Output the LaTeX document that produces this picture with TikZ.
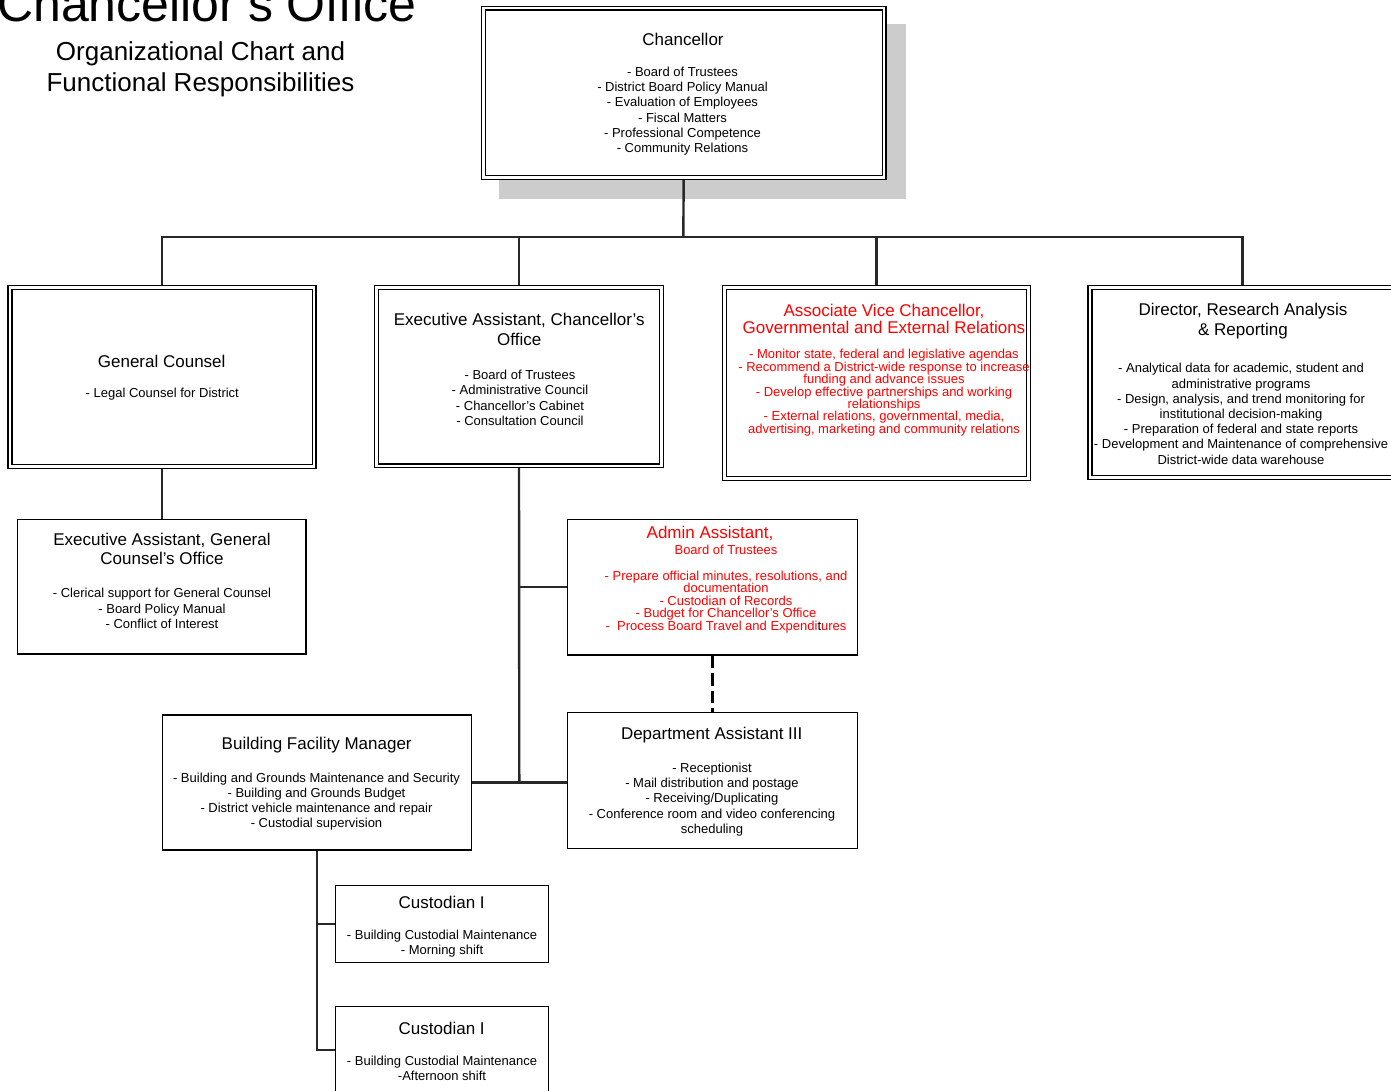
\documentclass[tikz,border=0pt]{standalone}
\usepackage{fontspec}
\setmainfont{Liberation Sans}
\usetikzlibrary{backgrounds}
\definecolor{shadowgray}{RGB}{204,204,204}
\definecolor{linegray}{RGB}{40,40,40}
\tikzset{
  dbox/.style={draw=black, line width=1.4pt, double=white, double distance=2.4pt, fill=white, inner sep=0, rectangle},
  sbox/.style={draw=black, line width=1.5pt, fill=white, inner sep=0, rectangle},
  ttl/.style={font=\fontsize{17}{20.6}\selectfont, align=center, inner sep=0, anchor=north},
  itm/.style={font=\fontsize{13}{15.3}\selectfont, align=center, inner sep=0, anchor=north},
  conn/.style={draw=linegray, line width=2.4pt},
  dashconn/.style={draw=black, line width=2.5pt, dash pattern=on 12.5pt off 5pt},
}
\begin{document}
\begin{tikzpicture}[x=1pt,y=-1pt]
\useasboundingbox (0,0) rectangle (1391,1091);

% headings
\node[font=\fontsize{50}{60}\selectfont, anchor=base east, inner sep=0] (bigtitle) at (417,21.7) {Chancellor’s Office};
\node[font=\fontsize{26}{30.7}\selectfont, align=center, anchor=north, inner sep=0] (subtitle) at (200.5,41.4) {Organizational Chart and\\Functional Responsibilities};

% boxes
\node[dbox, minimum width=400.8, minimum height=169.1] (ch) at (683.7,92.85) {};
\node[dbox, minimum width=304.2, minimum height=178.8] (gc) at (162,377) {};
\node[dbox, minimum width=284.8, minimum height=178.1] (ea) at (519,376.65) {};
\node[dbox, minimum width=304.1, minimum height=190.8] (avc) at (876.35,383) {};
\node[dbox, minimum width=305.5, minimum height=189.8] (dir) at (1242.65,382.5) {};
\node[sbox, minimum width=288.7, minimum height=134.7] (eagc) at (161.65,586.65) {};
\node[sbox, minimum width=290, minimum height=135.7] (adm) at (712.3,587.15) {};
\node[sbox, minimum width=290, minimum height=136] (dept) at (712.3,780.3) {};
\node[sbox, minimum width=309.4, minimum height=135] (bfm) at (317,782.5) {};
\node[sbox, minimum width=212.6, minimum height=77] (cA) at (442,924.2) {};
\node[sbox, minimum width=212.6, minimum height=86.6] (cB) at (442,1050) {};

% texts
\node[ttl] (chT) at (683,32.6) {Chancellor};
\node[itm] (chI) at (682.5,66.7) {- Board of Trustees\\- District Board Policy Manual\\- Evaluation of Employees\\- Fiscal Matters\\- Professional Competence\\- Community Relations};

\node[ttl] (gcT) at (161.7,355) {General Counsel};
\node[itm] (gcI) at (162.3,388.3) {- Legal Counsel for District};

\node[ttl] (eaT) at (519.2,312.7) {Executive Assistant, Chancellor’s\\Office};
\node[itm] (eaI) at (520,370) {- Board of Trustees\\- Administrative Council\\- Chancellor’s Cabinet\\- Consultation Council};

\node[ttl, text=red, font=\fontsize{17}{16.7}\selectfont] (avcT) at (884,304) {Associate Vice Chancellor,\\Governmental and External Relations};
\node[itm, text=red, font=\fontsize{13}{12.4}\selectfont] (avcI) at (884,349.3) {- Monitor state, federal and legislative agendas\\- Recommend a District-wide response to increase\\funding and advance issues\\- Develop effective partnerships and working\\relationships\\- External relations, governmental, media,\\advertising, marketing and community relations};

\node[ttl, font=\fontsize{17}{19.3}\selectfont] (dirT) at (1243,303.3) {Director, Research Analysis\\\& Reporting};
\node[itm, font=\fontsize{13}{15.2}\selectfont] (dirI) at (1241,363.3) {- Analytical data for academic, student and\\administrative programs\\- Design, analysis, and trend monitoring for\\institutional decision-making\\- Preparation of federal and state reports\\- Development and Maintenance of comprehensive\\District-wide data warehouse};

\node[ttl, font=\fontsize{17}{19.5}\selectfont] (eagcT) at (162,532.5) {Executive Assistant, General\\Counsel’s Office};
\node[itm] (eagcI) at (162,588.3) {- Clerical support for General Counsel\\- Board Policy Manual\\- Conflict of Interest};

\node[ttl, text=red] (admT) at (710,526) {Admin Assistant,};
\node[itm, text=red] (admS) at (726,545) {Board of Trustees};
\node[itm, text=red, font=\fontsize{13}{12.5}\selectfont] (admI) at (726,570.7) {- Prepare official minutes, resolutions, and\\documentation\\- Custodian of Records\\- Budget for Chancellor’s Office\\-~~Process Board Travel and Expendi\textcolor{black}{t}ures};

\node[ttl] (deptT) at (711.7,726.7) {Department Assistant III};
\node[itm] (deptI) at (712,762.7) {- Receptionist\\- Mail distribution and postage\\- Receiving/Duplicating\\- Conference room and video conferencing\\scheduling};

\node[ttl] (bfmT) at (316.7,737.3) {Building Facility Manager};
\node[itm, font=\fontsize{13}{15.2}\selectfont] (bfmI) at (316.5,772.7) {- Building and Grounds Maintenance and Security\\- Building and Grounds Budget\\- District vehicle maintenance and repair\\- Custodial supervision};

\node[ttl] (cAT) at (441.7,895.5) {Custodian I};
\node[itm, font=\fontsize{13}{15}\selectfont] (cAI) at (442,930) {- Building Custodial Maintenance\\- Morning shift};

\node[ttl] (cBT) at (441.7,1021.8) {Custodian I};
\node[itm, font=\fontsize{13}{15}\selectfont] (cBI) at (442,1056) {- Building Custodial Maintenance\\-Afternoon shift};

% background: shadow and connectors
\begin{scope}[on background layer]
  \node[fill=shadowgray, minimum width=406.7, minimum height=175, inner sep=0] (chShadow) at (702.65,111.8) {};
  \coordinate (bus) at (683.3,237);
  \coordinate (jn) at (519.3,782.5);
  \draw[conn] (ch.south) -- (bus);
  \draw[conn] (gc.north) -- (gc.north |- bus) -- (dir.north |- bus) -- (dir.north);
  \draw[conn] (ea.north) -- (ea.north |- bus);
  \draw[conn] (avc.north) -- (avc.north |- bus);
  \draw[conn] (gc.south) -- (gc.south |- eagc.north);
  \draw[conn] (ea.south) -- (jn);
  \draw[conn] (ea.south |- adm.west) -- (adm.west);
  \draw[conn] (bfm.east |- jn) -- (dept.west |- jn);
  \draw[dashconn] (adm.south) -- (dept.north);
  \draw[conn] (bfm.south) |- (cA.west);
  \draw[conn] (bfm.south) |- (cB.west);
\end{scope}
\end{tikzpicture}
\end{document}
